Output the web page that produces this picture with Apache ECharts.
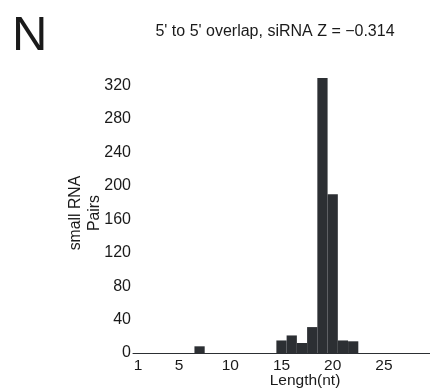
<!DOCTYPE html>
<html>
<head>
<meta charset="utf-8">
<script src="https://cdn.jsdelivr.net/npm/echarts@6/dist/echarts.min.js"></script>
<style>
  html, body { margin: 0; padding: 0; background: #fff; }
  #chart { width: 430px; height: 390px; }
</style>
</head>
<body>
<div id="chart"></div>
<script>
// overlap length (nt) and number of small RNA pairs
const lengths = []
for (let i = 1; i <= 29; i++) lengths.push(String(i))
const pairs = [0, 0, 0, 0, 0, 0, 8, 0, 0, 0,
               0, 0, 0, 0, 15, 21, 12, 31, 329, 190,
               15, 14, 0, 0, 0, 0, 0, 0, 0]
const xTickLabels = ['1', '5', '10', '15', '20', '25']

const font = 'Liberation Sans, Arial, sans-serif'
const textColor = '#1a1a1a'

const chart = echarts.init(document.getElementById('chart'), null, { renderer: 'canvas' })

const option = {
  backgroundColor: '#ffffff',
  animation: false,
  title: [{
    text: 'N',
    left: 7,
    top: 7,
    textStyle: { fontFamily: font, fontSize: 49, fontWeight: 'normal', color: textColor }
  }, {
    text: "5' to 5' overlap, siRNA Z = \u22120.314",
    left: 270,
    textAlign: 'center',
    top: 19,
    textStyle: { fontFamily: font, fontSize: 16, fontWeight: 'normal', color: textColor }
  }],
  grid: {
    left: 133,
    right: 0,
    top: 73,
    bottom: 37,
    containLabel: false,
    outerBoundsMode: 'none'
  },
  xAxis: {
    type: 'category',
    data: lengths,
    name: 'Length(nt)',
    nameLocation: 'middle',
    nameMoveOverlap: false,
    nameGap: 20,
    nameTextStyle: { fontFamily: font, fontSize: 15.5, color: textColor, padding: [0, 0, 0, 47] },
    axisLine: { show: true, lineStyle: { color: '#2c2f33', width: 1 } },
    axisTick: { show: false },
    axisLabel: {
      interval: 0,
      margin: 5,
      fontFamily: font,
      fontSize: 15.5,
      color: textColor,
      formatter: v => xTickLabels.indexOf(v) >= 0 ? v : ''
    },
    splitLine: { show: false }
  },
  yAxis: {
    type: 'value',
    min: 0,
    max: 335,
    interval: 40,
    name: 'small RNA\nPairs',
    nameLocation: 'middle',
    nameMoveOverlap: false,
    nameRotate: 90,
    nameGap: 29,
    nameTextStyle: { fontFamily: font, fontSize: 15.8, color: textColor, lineHeight: 19 },
    axisLine: { show: false },
    axisTick: { show: false },
    splitLine: { show: false },
    axisLabel: {
      margin: 2,
      fontFamily: font,
      fontSize: 16,
      color: textColor,
      formatter: v => (v % 40 === 0 ? String(v) : '')
    }
  },
  series: [{
    type: 'bar',
    data: pairs,
    barCategoryGap: '0%',
    itemStyle: { color: '#2c2f33' }
  }]
}

chart.setOption(option)
</script>
</body>
</html>
